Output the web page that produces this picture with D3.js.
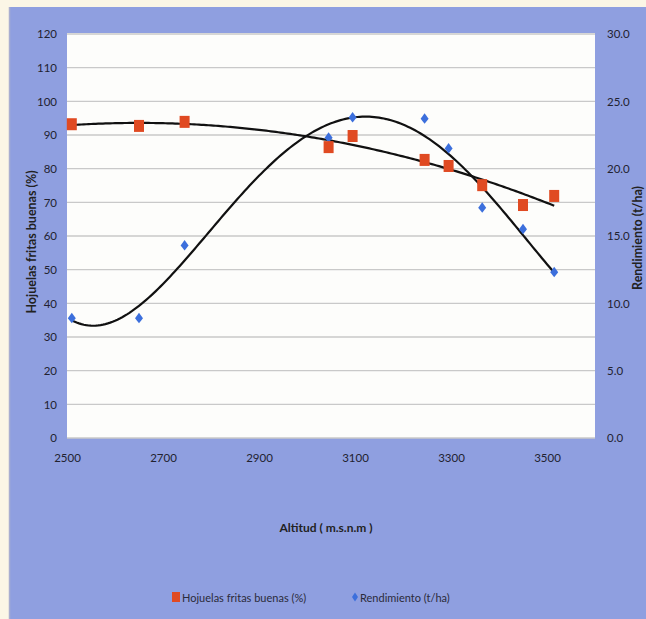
<!DOCTYPE html>
<html>
<head>
<meta charset="utf-8">
<script src="https://cdn.jsdelivr.net/npm/d3@7"></script>
<style>
  body { margin: 0; background: #fff; }
  text { font-family: Lato, "Open Sans", sans-serif; }
</style>
</head>
<body>
<svg id="chart" width="646" height="619"></svg>
<script>
// altitud (m.s.n.m)
let altitud = [2510, 2650, 2745, 3045, 3095, 3245, 3295, 3365, 3450, 3515];
// hojuelas fritas buenas (%)
let hojuelas = [93.2, 92.7, 93.9, 86.4, 89.7, 82.6, 80.8, 75.1, 69.2, 71.9];
// rendimiento (t/ha)
let rendimiento = [8.9, 8.9, 14.3, 22.3, 23.8, 23.7, 21.5, 17.1, 15.5, 12.3];

let xTicks = [2500, 2700, 2900, 3100, 3300, 3500];
let leftTicks = d3.range(0, 121, 10);
let rightTicks = [0, 5, 10, 15, 20, 25, 30];

let svg = d3.select("#chart");

// background (scanned page look)
svg.append("rect").attr("x", 0).attr("y", 0).attr("width", 646).attr("height", 619).attr("fill", "#fbf6e6");
svg.append("rect").attr("x", 9).attr("y", 7).attr("width", 637).attr("height", 612).attr("fill", "#8f9fe0");
svg.append("line").attr("x1", 9.5).attr("x2", 9.5).attr("y1", 7).attr("y2", 619).attr("stroke", "#a9aed0").attr("stroke-width", 1.5);

let plotL = 67, plotR = 595, plotT = 34, plotB = 438;

let xScale = d3.scaleLinear().domain([2500, 3600]).range([plotL, plotR]);
let yLeft = d3.scaleLinear().domain([0, 120]).range([plotB, plotT]);
let yRight = d3.scaleLinear().domain([0, 30]).range([plotB, plotT]);

svg.append("rect").attr("x", plotL).attr("y", plotT - 1).attr("width", plotR - plotL).attr("height", plotB - plotT + 1)
    .attr("fill", "#fdfdfb");

// gridlines
svg.append("g").selectAll("line").data(leftTicks).enter().append("line")
    .attr("x1", plotL).attr("x2", plotR)
    .attr("y1", d => yLeft(d)).attr("y2", d => yLeft(d))
    .attr("stroke", "#c9c9c9").attr("stroke-width", 1.3);

// axes (labels only, like the original)
let axL = svg.append("g").attr("transform", "translate(" + (plotL - 10) + ",0)")
    .call(d3.axisLeft(yLeft).tickValues(leftTicks).tickSize(0).tickPadding(0));
let axR = svg.append("g").attr("transform", "translate(" + (plotR + 12) + ",0)")
    .call(d3.axisRight(yRight).tickValues(rightTicks).tickSize(0).tickPadding(0).tickFormat(d3.format(".1f")));
let axX = svg.append("g").attr("transform", "translate(0," + (plotB + 16) + ")")
    .call(d3.axisBottom(xScale).tickValues(xTicks).tickSize(0).tickPadding(0).tickFormat(d3.format("d")));
[axL, axR, axX].forEach(a => {
    a.select(".domain").remove();
    a.selectAll("text").attr("font-size", 11.5).attr("fill", "#222230");
});

// polynomial trend lines (least squares, like excel)
function polyFit(xs, ys, order) {
    let n = order + 1;
    let A = [];
    for (let i = 0; i < n; i++) {
        A.push([]);
        for (let j = 0; j <= n; j++) A[i].push(0);
    }
    xs.forEach((x, k) => {
        let t = (x - 3000) / 500;
        for (let i = 0; i < n; i++) {
            for (let j = 0; j < n; j++) A[i][j] += Math.pow(t, i + j);
            A[i][n] += Math.pow(t, i) * ys[k];
        }
    });
    for (let i = 0; i < n; i++) {
        let p = i;
        for (let r = i + 1; r < n; r++) if (Math.abs(A[r][i]) > Math.abs(A[p][i])) p = r;
        [A[i], A[p]] = [A[p], A[i]];
        for (let r = 0; r < n; r++) {
            if (r === i) continue;
            let f = A[r][i] / A[i][i];
            for (let c = i; c <= n; c++) A[r][c] -= f * A[i][c];
        }
    }
    let coef = A.map((row, i) => row[n] / row[i]);
    return x => {
        let t = (x - 3000) / 500;
        return coef.reduce((s, c, i) => s + c * Math.pow(t, i), 0);
    };
}

let fitH = polyFit(altitud, hojuelas, 2);
let fitR = polyFit(altitud, rendimiento, 4);
let xs = d3.range(altitud[0], altitud[altitud.length - 1] + 1, 5);

svg.append("path").datum(xs)
    .attr("d", d3.line().x(d => xScale(d)).y(d => yLeft(fitH(d))))
    .attr("fill", "none").attr("stroke", "#111").attr("stroke-width", 2.2);
svg.append("path").datum(xs)
    .attr("d", d3.line().x(d => xScale(d)).y(d => yRight(fitR(d))))
    .attr("fill", "none").attr("stroke", "#111").attr("stroke-width", 2.2);

// markers
let diamond = "M0,-5.5L4,0L0,5L-4,0Z";
svg.append("g").selectAll("path").data(altitud).enter().append("path")
    .attr("d", diamond)
    .attr("transform", (d, i) => "translate(" + xScale(d) + "," + yRight(rendimiento[i]) + ")")
    .attr("fill", "#3c6fdc");
svg.append("g").selectAll("rect").data(altitud).enter().append("rect")
    .attr("x", d => xScale(d) - 5)
    .attr("y", (d, i) => yLeft(hojuelas[i]) - 6)
    .attr("width", 10).attr("height", 12)
    .attr("fill", "#e04a22");

// titles
svg.append("text").attr("transform", "translate(36,242) rotate(-90)")
    .attr("text-anchor", "middle").attr("font-size", 12.5).attr("font-weight", "bold").attr("fill", "#222")
    .text("Hojuelas fritas buenas (%)");
svg.append("text").attr("transform", "translate(642,238) rotate(-90)")
    .attr("text-anchor", "middle").attr("font-size", 12.5).attr("font-weight", "bold").attr("fill", "#222")
    .text("Rendimiento (t/ha)");
svg.append("text").attr("x", 326).attr("y", 532)
    .attr("text-anchor", "middle").attr("font-size", 12).attr("font-weight", "bold").attr("fill", "#222")
    .text("Altitud ( m.s.n.m )");

// legend
let legend = svg.append("g").attr("transform", "translate(0,598)");
legend.append("rect").attr("x", 172).attr("y", -6).attr("width", 8).attr("height", 10).attr("fill", "#e04a22");
legend.append("text").attr("x", 182).attr("y", 4).attr("font-size", 11).attr("fill", "#2b2b3a")
    .text("Hojuelas fritas buenas (%)");
legend.append("path").attr("d", "M0,-4.5L3,0L0,4.5L-3,0Z").attr("transform", "translate(355,-1)").attr("fill", "#3c6fdc");
legend.append("text").attr("x", 360).attr("y", 4).attr("font-size", 11).attr("fill", "#2b2b3a")
    .text("Rendimiento (t/ha)");
</script>
</body>
</html>
